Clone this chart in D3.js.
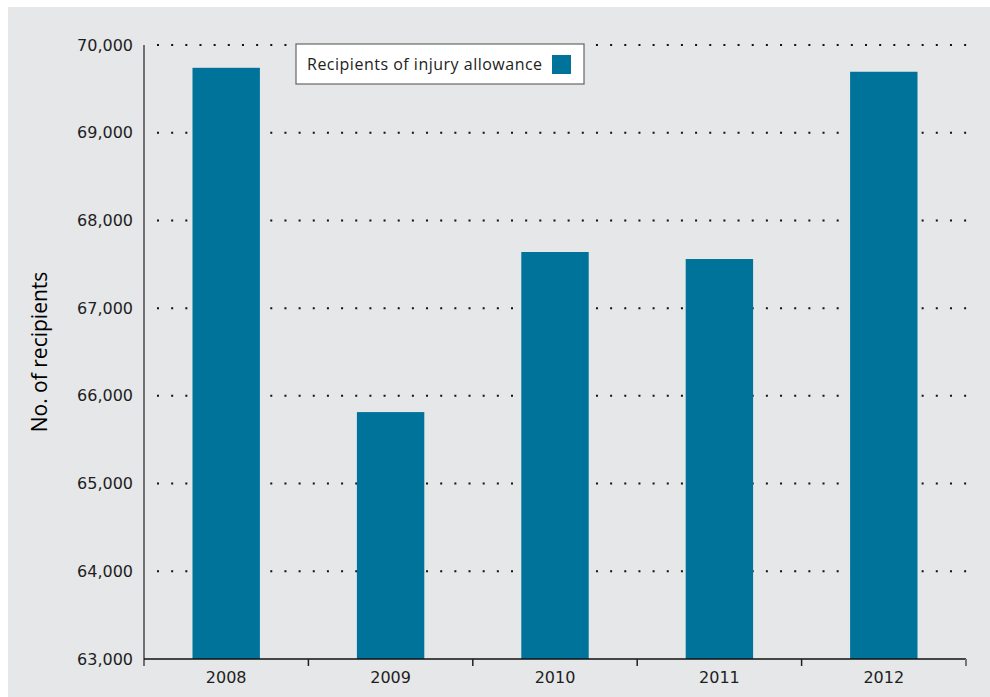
<!DOCTYPE html>
<html>
<head>
<meta charset="utf-8">
<script src="https://cdn.jsdelivr.net/npm/d3@7"></script>
<style>
  body { margin: 0; background: #fff; }
  svg { display: block; }
</style>
</head>
<body>
<svg id="chart"></svg>
<script>
// Chart data
const years = ["2008", "2009", "2010", "2011", "2012"];
const recipients = [69740, 65815, 67640, 67560, 69695];
const yTicks = [63000, 64000, 65000, 66000, 67000, 68000, 69000, 70000];
const seriesName = "Recipients of injury allowance";

const width = 990;
const height = 697;
const margin = { top: 45, right: 24, bottom: 38, left: 144 };
const barColor = "#00739a";
const tickFont = "'DejaVu Sans', Verdana, sans-serif";

const svg = d3.select("#chart")
    .attr("width", width)
    .attr("height", height);

// Panel background
svg.append("rect")
    .attr("x", 8)
    .attr("y", 7)
    .attr("width", width - 8)
    .attr("height", height - 7)
    .attr("fill", "#e6e7e9");

// Scales
const xScale = d3.scaleBand()
    .domain(years)
    .range([margin.left, width - margin.right])
    .paddingInner(0.59)
    .paddingOuter(0.295);

const yScale = d3.scaleLinear()
    .domain([63000, 70000])
    .range([height - margin.bottom, margin.top]);

// Dotted grid lines
svg.append("g")
    .selectAll("line")
    .data(yTicks.filter(d => d > 63000))
    .join("line")
    .attr("x1", margin.left + 13)
    .attr("x2", width - margin.right + 1)
    .attr("y1", d => yScale(d))
    .attr("y2", d => yScale(d))
    .attr("stroke", "#111")
    .attr("stroke-width", 2)
    .attr("stroke-dasharray", "2 12.16");

// Bars
svg.append("g")
    .selectAll("rect")
    .data(years.map((y, i) => ({ year: y, value: recipients[i] })))
    .join("rect")
    .attr("x", d => xScale(d.year))
    .attr("y", d => yScale(d.value))
    .attr("width", xScale.bandwidth())
    .attr("height", d => yScale(63000) - yScale(d.value))
    .attr("fill", barColor);

// Y axis
const yAxis = svg.append("g")
    .attr("transform", `translate(${margin.left},0)`)
    .call(d3.axisLeft(yScale).tickValues(yTicks).tickFormat(d3.format(",")).tickSize(0).tickPadding(11));
yAxis.select(".domain").remove();
yAxis.attr("font-family", null).attr("font-size", null);
yAxis.selectAll("text")
    .style("font-family", tickFont)
    .style("font-size", "16px")
    .attr("fill", "#1e1e1e");

svg.append("line")
    .attr("x1", margin.left)
    .attr("x2", margin.left)
    .attr("y1", margin.top)
    .attr("y2", height - margin.bottom + 7)
    .attr("stroke", "#707070")
    .attr("stroke-width", 2);

// X axis with ticks at band boundaries
const baseY = height - margin.bottom;
svg.append("line")
    .attr("x1", margin.left)
    .attr("x2", width - margin.right)
    .attr("y1", baseY)
    .attr("y2", baseY)
    .attr("stroke", "#111")
    .attr("stroke-width", 1.5);

const step = xScale.step();
const boundaries = d3.range(years.length + 1).map(i => margin.left + i * step);
svg.append("g")
    .selectAll("line")
    .data(boundaries.slice(1))
    .join("line")
    .attr("x1", d => d)
    .attr("x2", d => d)
    .attr("y1", baseY)
    .attr("y2", baseY + 7)
    .attr("stroke", (d, i) => i === years.length - 1 ? "#777" : "#222")
    .attr("stroke-width", (d, i) => i === years.length - 1 ? 2 : 1.5);

svg.append("g")
    .selectAll("text")
    .data(years)
    .join("text")
    .attr("x", d => xScale(d) + xScale.bandwidth() / 2)
    .attr("y", baseY + 24)
    .attr("text-anchor", "middle")
    .style("font-family", tickFont)
    .style("font-size", "16px")
    .attr("fill", "#1e1e1e")
    .text(d => d);

// Y axis title
svg.append("text")
    .attr("transform", `translate(47, ${(margin.top + baseY) / 2}) rotate(-90)`)
    .attr("text-anchor", "middle")
    .style("font-family", "'Open Sans', sans-serif")
    .style("font-size", "21px")
    .style("font-weight", 500)
    .attr("fill", "#000")
    .text("No. of recipients");

// Legend
const legend = svg.append("g")
    .attr("transform", "translate(296, 44)");

legend.append("rect")
    .attr("width", 288)
    .attr("height", 40)
    .attr("fill", "#fff")
    .attr("stroke", "#666")
    .attr("stroke-width", 1.2);

legend.append("text")
    .attr("x", 11)
    .attr("y", 26)
    .style("font-family", "'Open Sans', sans-serif")
    .style("font-size", "16px")
    .style("letter-spacing", "0.5px")
    .attr("fill", "#222")
    .text(seriesName);

legend.append("rect")
    .attr("x", 256)
    .attr("y", 11)
    .attr("width", 19)
    .attr("height", 19)
    .attr("fill", barColor);
</script>
</body>
</html>
